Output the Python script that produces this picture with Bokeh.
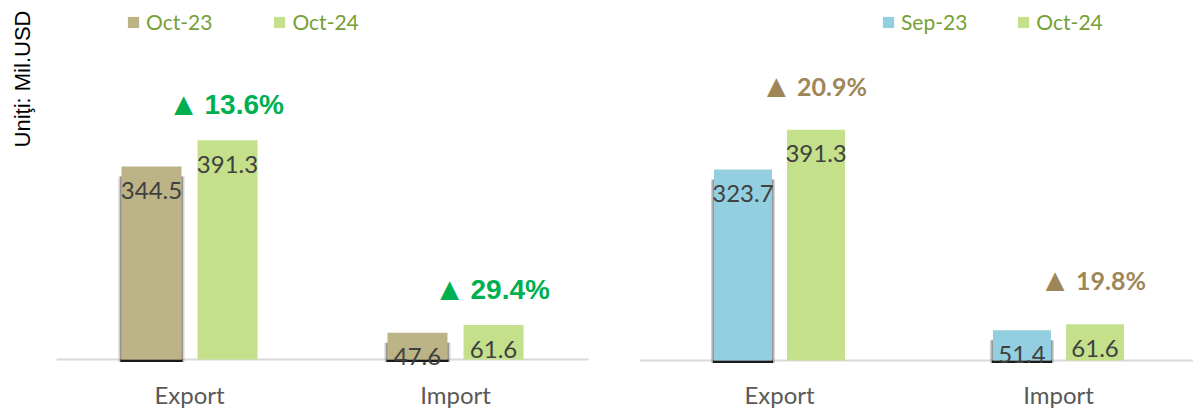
import numpy as np
from bokeh.plotting import figure
from bokeh.layouts import row
from bokeh.models import Range1d, Legend, LegendItem, Label, ColumnDataSource
from bokeh.core.properties import value
from bokeh.embed import file_html
from bokeh.resources import INLINE

# ---------------- data ----------------
categories = ["Export", "Import"]

left_series = ["Oct-23", "Oct-24"]
left_prev = [344.5, 47.6]
left_curr = [391.3, 61.6]
left_change = ["13.6%", "29.4%"]

right_series = ["Sep-23", "Oct-24"]
right_prev = [323.7, 51.4]
right_curr = [391.3, 61.6]
right_change = ["20.9%", "19.8%"]

unit_label = "Uniţi: Mil.USD"

# ---------------- style ----------------
VALUE_COLOR = "#404040"
CAT_COLOR = "#595959"
LEGEND_TEXT = "#76A035"
BASE_COLOR = "#d9d9d9"
H = 409


def panel(width, xr, yr, off, bar_w_px, colors, series, prev, curr, change,
          ann_color, ann_font, ann_size, tri_dx, txt_dx, ann_dy, cat_dy,
          leg_loc, leg_spacing, ylabel=None):
    p = figure(width=width, height=H, output_backend="svg", toolbar_location=None,
               x_range=Range1d(*xr), y_range=Range1d(*yr),
               x_axis_location=None, y_axis_location=None, min_border=0)
    p.outline_line_color = None
    p.grid.visible = False
    sx = width / (xr[1] - xr[0])          # px per x-unit
    sy = H / (yr[1] - yr[0])              # px per y-unit
    bw = bar_w_px / sx
    idx = np.arange(len(categories))
    src = ColumnDataSource(dict(
        x0=idx - off, x1=idx + off, prev=prev, curr=curr,
        prev_txt=[f"{v:.1f}" for v in prev], curr_txt=[f"{v:.1f}" for v in curr],
        change=change, cat=categories, xc=idx,
        shadow_top=[v - 10 / sy for v in prev],
    ))
    # baseline
    p.segment(x0=-0.5, y0=0, x1=len(categories) - 0.5, y1=0,
              line_color=BASE_COLOR, line_width=2)
    # soft shadow of first series
    p.vbar(x="x0", top="shadow_top", bottom=-2.5 / sy, width=bw + 6 / sx,
           source=src, fill_color="#9a9a9a", fill_alpha=0.45, line_color=None)
    p.vbar(x="x0", top="shadow_top", bottom=-2.5 / sy, width=bw + 3 / sx,
           source=src, fill_color="#6f6f6f", fill_alpha=0.6, line_color=None)
    p.vbar(x="x0", top=0, bottom=-2.5 / sy, width=bw + 2 / sx,
           source=src, fill_color="#1a1a1a", line_color=None)
    r1 = p.vbar(x="x0", top="prev", bottom=0, width=bw, source=src,
                fill_color=colors[0], line_color=None)
    r2 = p.vbar(x="x1", top="curr", bottom=0, width=bw, source=src,
                fill_color=colors[1], line_color=None)
    # value labels
    for xcol, ycol, tcol in (("x0", "prev", "prev_txt"), ("x1", "curr", "curr_txt")):
        p.text(x=xcol, y=ycol, text=tcol, source=src, y_offset=24,
               text_align="center", text_baseline="middle",
               text_font=value("Lato"), text_font_size="24px",
               text_color=VALUE_COLOR)
    # change annotations
    p.text(x="x1", y="curr", text=value("▲"), source=src, x_offset=tri_dx,
           y_offset=ann_dy, text_align="right", text_baseline="middle",
           text_font=value("Liberation Sans"), text_font_size="32px",
           text_color=ann_color)
    p.text(x="x1", y="curr", text="change", source=src, x_offset=txt_dx,
           y_offset=ann_dy, text_align="left", text_baseline="middle",
           text_font=value(ann_font), text_font_size=ann_size,
           text_font_style="bold", text_color=ann_color)
    # category labels
    p.text(x="xc", y=0, text="cat", source=src, y_offset=cat_dy,
           text_align="center", text_baseline="middle",
           text_font=value("Lato"), text_font_size="24px", text_color=CAT_COLOR)
    # legend
    legend = Legend(items=[LegendItem(label=series[0], renderers=[r1]),
                           LegendItem(label=series[1], renderers=[r2])],
                    orientation="horizontal", location=leg_loc,
                    glyph_width=14, glyph_height=14, label_standoff=6,
                    spacing=leg_spacing, padding=0, margin=0,
                    border_line_alpha=0, background_fill_alpha=0,
                    label_text_font="Lato", label_text_font_size="21px",
                    label_text_color=LEGEND_TEXT)
    p.add_layout(legend)
    if ylabel:
        p.add_layout(Label(x=xr[0] + 21.5 / sx, y=yr[1] - 78.5 / sy, text=ylabel,
                           angle=np.pi / 2, text_align="center",
                           text_baseline="middle", text_font="Liberation Sans",
                           text_font_size="22px", text_color="#000000"))
    return p


left = panel(632, (-0.7105, 1.6654), (-89.29, 641.07), 0.143, 60,
             ["#BCB386", "#C4E08B"], left_series, left_prev, left_curr, left_change,
             "#00B050", "Liberation Sans", "28px", -28, -23, -36, 35,
             (126, 375), 60, ylabel=unit_label)
right = panel(561, (-0.5269, 1.4839), (-83.05, 610.17), 0.131, 58,
              ["#93CFE0", "#C4E08B"], right_series, right_prev, right_curr, right_change,
              "#9E8658", "Lato", "25px", -24, -19, -44, 34,
              (249, 375), 49)

layout = row(left, right, spacing=0)
open("out.html", "w").write(file_html(layout, INLINE))
